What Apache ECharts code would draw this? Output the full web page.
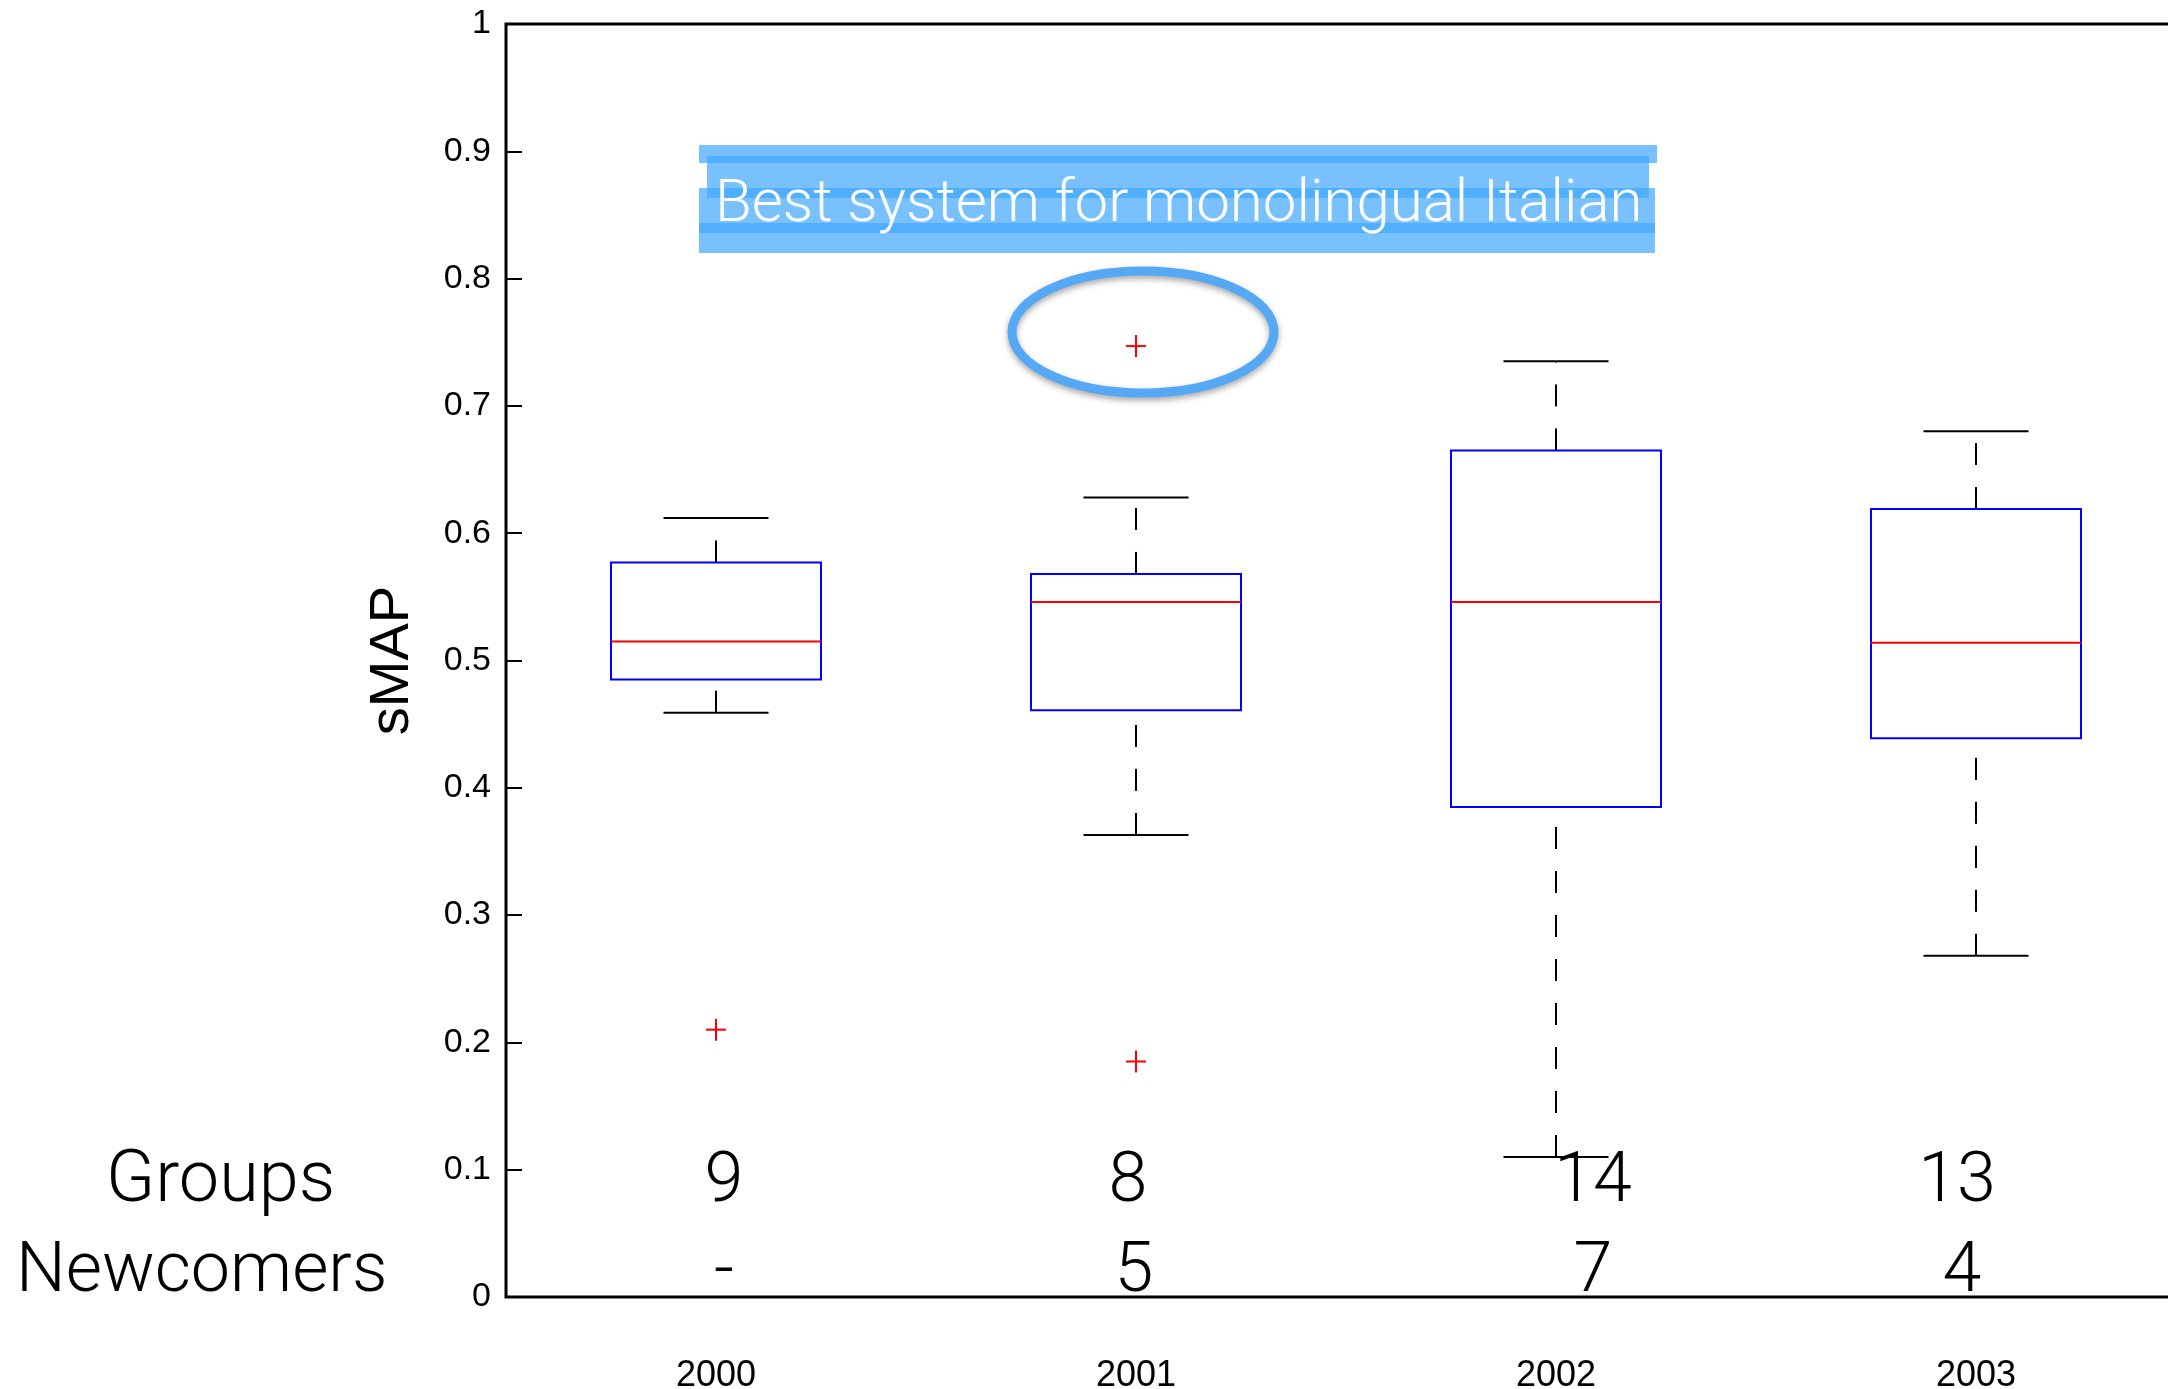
<!DOCTYPE html>
<html><head><meta charset="utf-8">
<script src="https://cdn.jsdelivr.net/npm/echarts@6/dist/echarts.min.js"></script>
<style>html,body{margin:0;padding:0;background:#fff;overflow:hidden}#c{width:2200px;height:1389px}</style>
</head><body><div id="c"></div>
<script>
// ---- data ----
const years = ['2000', '2001', '2002', '2003'];
const whiskerLow = [0.459, 0.363, 0.110, 0.268];
const q1 = [0.485, 0.461, 0.385, 0.439];
const median = [0.515, 0.546, 0.546, 0.514];
const q3 = [0.577, 0.568, 0.665, 0.619];
const whiskerHigh = [0.612, 0.628, 0.735, 0.680];
const outlierYearIdx = [0, 1, 1];
const outlierValues = [0.210, 0.747, 0.185];
const groups = ['9', '8', '14', '13'];
const newcomers = ['-', '5', '7', '4'];
const yTicks = [0, 0.1, 0.2, 0.3, 0.4, 0.5, 0.6, 0.7, 0.8, 0.9, 1];

// ---- layout (not data) ----
const groupsDx = [8, -8, 37, -19];
const newcomersDx = [8, -2, 37, -14];
const lightFont = '"Helvetica Neue", Roboto, "Liberation Sans", sans-serif';
const axisFont = '"Liberation Sans", Arial, Helvetica, sans-serif';

const boxData = years.map((y, i) => [i, whiskerLow[i], q1[i], median[i], q3[i], whiskerHigh[i]]);
const outlierData = outlierValues.map((v, k) => [outlierYearIdx[k], v]);

function renderBox(params, api) {
  const i = api.value(0);
  const lo = api.coord([i, api.value(1)]);
  const b1 = api.coord([i, api.value(2)]);
  const md = api.coord([i, api.value(3)]);
  const b3 = api.coord([i, api.value(4)]);
  const hi = api.coord([i, api.value(5)]);
  const band = api.size([1, 0])[0];
  const bw = band * 0.5, cw = band * 0.25;
  const x = lo[0];
  const dash = { stroke: '#000', lineWidth: 2, lineDash: [22, 22], fill: 'none' };
  const solid = { stroke: '#000', lineWidth: 2, fill: 'none' };
  return {
    type: 'group', children: [
      { type: 'line', shape: { x1: x, y1: lo[1], x2: x, y2: b1[1] }, style: dash },
      { type: 'line', shape: { x1: x, y1: b3[1], x2: x, y2: hi[1] }, style: dash },
      { type: 'line', shape: { x1: x - cw / 2, y1: lo[1], x2: x + cw / 2, y2: lo[1] }, style: solid },
      { type: 'line', shape: { x1: x - cw / 2, y1: hi[1], x2: x + cw / 2, y2: hi[1] }, style: solid },
      { type: 'rect', shape: { x: x - bw / 2, y: b3[1], width: bw, height: b1[1] - b3[1] },
        style: { fill: 'none', stroke: '#0000ff', lineWidth: 2 } },
      { type: 'line', shape: { x1: x - bw / 2, y1: md[1], x2: x + bw / 2, y2: md[1] },
        style: { stroke: '#ff0000', lineWidth: 2 } }
    ]
  };
}

function renderOutlier(params, api) {
  const p = api.coord([api.value(0), api.value(1)]);
  const h = 11, w = 10;
  const st = { stroke: '#ff0000', lineWidth: 2 };
  return {
    type: 'group', children: [
      { type: 'line', shape: { x1: p[0], y1: p[1] - h, x2: p[0], y2: p[1] + h }, style: st },
      { type: 'line', shape: { x1: p[0] - w, y1: p[1], x2: p[0] + w, y2: p[1] }, style: st }
    ]
  };
}

function renderLabels(params, api) {
  const i = params.dataIndex;
  const x = api.coord([i, 0])[0];
  return {
    type: 'group', children: [
      { type: 'text', x: x + groupsDx[i], y: 1183,
        style: { text: groups[i], fontSize: 70, fontWeight: 300, fontFamily: lightFont, fill: '#000',
          align: 'center', verticalAlign: 'middle' } },
      { type: 'text', x: x + newcomersDx[i], y: 1273,
        style: { text: newcomers[i], fontSize: 70, fontWeight: 300, fontFamily: lightFont, fill: '#000',
          align: 'center', verticalAlign: 'middle' } }
    ]
  };
}

const hlColor = 'rgb(62,166,253)';
const option = {
  backgroundColor: '#fff',
  animation: false,
  grid: { left: 506, top: 24, width: 1680, height: 1273, outerBoundsMode: 'none', containLabel: false,
    show: true, borderColor: '#000', borderWidth: 3 },
  xAxis: {
    type: 'category', data: years, boundaryGap: true,
    axisLine: { show: false }, axisTick: { show: false },
    axisLabel: { margin: 79, verticalAlign: 'middle', fontSize: 36, color: '#000', fontFamily: axisFont }
  },
  yAxis: {
    type: 'value', min: yTicks[0], max: yTicks[yTicks.length - 1], interval: 0.1,
    axisLine: { show: false },
    axisTick: { show: true, inside: true, length: 16, lineStyle: { color: '#000', width: 2 } },
    axisLabel: { margin: 15, fontSize: 34, color: '#000', fontFamily: axisFont },
    splitLine: { show: false },
    name: 'sMAP', nameLocation: 'middle', nameGap: 85,
    nameTextStyle: { fontSize: 56, color: '#000', fontFamily: axisFont }
  },
  graphic: [
    { type: 'rect', z: 10, shape: { x: 699, y: 145, width: 958, height: 18 }, style: { fill: hlColor, opacity: 0.7 } },
    { type: 'rect', z: 10, shape: { x: 707, y: 156, width: 942, height: 42 }, style: { fill: hlColor, opacity: 0.7 } },
    { type: 'rect', z: 10, shape: { x: 699, y: 188, width: 956, height: 45 }, style: { fill: hlColor, opacity: 0.7 } },
    { type: 'rect', z: 10, shape: { x: 699, y: 223, width: 956, height: 30 }, style: { fill: hlColor, opacity: 0.7 } },
    { type: 'text', z: 11, x: 715, y: 206,
      style: { text: 'Best system for monolingual Italian', fontSize: 60, fontWeight: 300, fontFamily: lightFont,
        fill: '#fff', align: 'left', verticalAlign: 'middle' } },
    { type: 'ellipse', z: 10, shape: { cx: 1143, cy: 332, rx: 131, ry: 61 },
      style: { fill: 'none', stroke: '#55a8f3', lineWidth: 9,
        shadowBlur: 6, shadowColor: 'rgba(0,0,0,0.35)', shadowOffsetY: 3 } },
    { type: 'text', z: 11, x: 106, y: 1183,
      style: { text: 'Groups', fontSize: 72, fontWeight: 300, fontFamily: lightFont, fill: '#000',
        align: 'left', verticalAlign: 'middle' } },
    { type: 'text', z: 11, x: 16, y: 1273,
      style: { text: 'Newcomers', fontSize: 70, fontWeight: 300, fontFamily: lightFont, fill: '#000',
        align: 'left', verticalAlign: 'middle' } }
  ],
  series: [
    { type: 'custom', renderItem: renderBox, data: boxData, encode: { x: 0, y: [1, 2, 3, 4, 5] }, clip: false, z: 3 },
    { type: 'custom', renderItem: renderOutlier, data: outlierData, encode: { x: 0, y: 1 }, z: 4 },
    { type: 'custom', renderItem: renderLabels, data: years.map((y, i) => [i, 0]), encode: { x: 0, y: 1 }, clip: false, z: 5 }
  ]
};
const chart = echarts.init(document.getElementById('c'));
chart.setOption(option);
</script>
</body></html>
